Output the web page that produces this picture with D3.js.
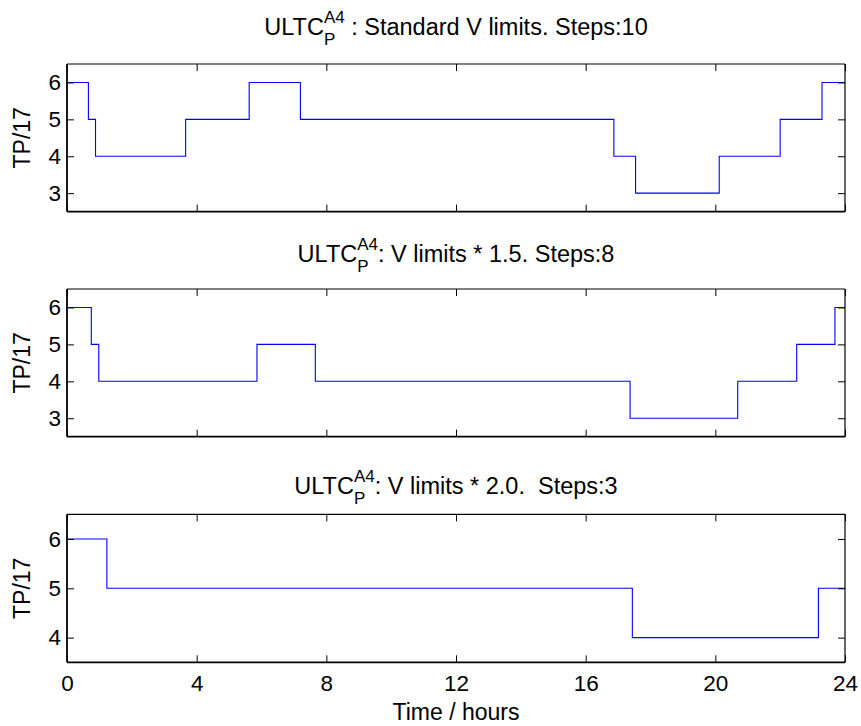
<!DOCTYPE html>
<html>
<head>
<meta charset="utf-8">
<script src="https://cdn.jsdelivr.net/npm/d3@7"></script>
<style>
  html, body { margin: 0; padding: 0; background: #fff; }
  text { font-family: "Liberation Sans", Arial, Helvetica, sans-serif; fill: #000; }
</style>
</head>
<body>
<svg id="chart" width="861" height="726"></svg>
<script>
// ---- data ----
const xTicks = [0, 4, 8, 12, 16, 20, 24];
const xLabel = "Time / hours";
const yLabel = "TP/17";

const titleMain = "ULTC";
const titleSup = "A4";
const titleSub = "P";
const titleRests = [" : Standard V limits. Steps:10", ": V limits * 1.5. Steps:8", ": V limits * 2.0.  Steps:3"];

const times1 = [0, 0.66, 0.88, 3.66, 5.62, 7.2, 16.87, 17.54, 20.12, 22.0, 23.29, 24];
const levels1 = [6, 5, 4, 5, 6, 5, 4, 3, 4, 5, 6, 6];

const times2 = [0, 0.75, 0.98, 5.86, 7.66, 17.37, 20.69, 22.51, 23.69, 24];
const levels2 = [6, 5, 4, 5, 4, 3, 4, 5, 6, 6];

const times3 = [0, 1.23, 17.44, 23.18, 24];
const levels3 = [6, 5, 4, 5, 5];

const yTicks1 = [3, 4, 5, 6];
const yTicks2 = [3, 4, 5, 6];
const yTicks3 = [4, 5, 6];
const yDomain1 = [2.5, 6.5];
const yDomain2 = [2.5, 6.5];
const yDomain3 = [3.5, 6.5];

// ---- layout ----
const svg = d3.select("#chart");
const left = 67, right = 845;
const panels = [
  { top: 64, bottom: 211.6, times: times1, levels: levels1, ticks: yTicks1, dom: yDomain1, titleY: 35, rest: titleRests[0], showX: false },
  { top: 289, bottom: 436.7, times: times2, levels: levels2, ticks: yTicks2, dom: yDomain2, titleY: 262, rest: titleRests[1], showX: false },
  { top: 514.3, bottom: 662.3, times: times3, levels: levels3, ticks: yTicks3, dom: yDomain3, titleY: 494, rest: titleRests[2], showX: true }
];

const FS_TICK = 22.5, FS_LABEL = 23, FS_TITLE = 23.5, FS_SCRIPT = 17;
const TICK = 7;

const x = d3.scaleLinear().domain([0, 24]).range([left, right]);

panels.forEach(p => {
  const y = d3.scaleLinear().domain(p.dom).range([p.bottom, p.top]);
  const g = svg.append("g");

  // data line
  const pts = p.times.map((t, i) => [t, p.levels[i]]);
  g.append("path")
    .datum(pts)
    .attr("fill", "none")
    .attr("stroke", "#0000ff")
    .attr("stroke-width", 1.1)
    .attr("d", d3.line().x(d => x(d[0])).y(d => y(d[1])).curve(d3.curveStepAfter));

  // axes (ticks inward)
  const ax = g.append("g").attr("transform", `translate(${left},0)`)
    .call(d3.axisLeft(y).tickValues(p.ticks).tickSize(-TICK).tickPadding(6).tickFormat(d3.format("d")));
  ax.select(".domain").remove();
  ax.selectAll("text").style("font-size", FS_TICK + "px");

  const ar = g.append("g").attr("transform", `translate(${right},0)`)
    .call(d3.axisRight(y).tickValues(p.ticks).tickSize(-TICK).tickFormat(""));
  ar.select(".domain").remove();

  const at = g.append("g").attr("transform", `translate(0,${p.top})`)
    .call(d3.axisTop(x).tickValues(xTicks).tickSize(-TICK).tickFormat(""));
  at.select(".domain").remove();

  const ab = g.append("g").attr("transform", `translate(0,${p.bottom})`)
    .call(d3.axisBottom(x).tickValues(xTicks).tickSize(-TICK).tickPadding(13)
      .tickFormat(p.showX ? d3.format("d") : ""));
  ab.select(".domain").remove();
  ab.selectAll("text").style("font-size", FS_TICK + "px");

  // box
  g.append("line").attr("x1", left).attr("x2", right).attr("y1", p.top).attr("y2", p.top).attr("stroke", "#000").attr("stroke-width", 1.2);
  g.append("line").attr("x1", right).attr("x2", right).attr("y1", p.top).attr("y2", p.bottom).attr("stroke", "#000").attr("stroke-width", 1.2);
  g.append("line").attr("x1", left).attr("x2", right).attr("y1", p.bottom).attr("y2", p.bottom).attr("stroke", "#000").attr("stroke-width", 1.8);
  g.append("line").attr("x1", left).attr("x2", left).attr("y1", p.top).attr("y2", p.bottom).attr("stroke", "#000").attr("stroke-width", 1.8);

  // y label
  g.append("text")
    .attr("transform", `translate(30,${(p.top + p.bottom) / 2}) rotate(-90)`)
    .attr("text-anchor", "middle")
    .style("font-size", FS_LABEL + "px")
    .text(yLabel);

  // title: ULTC with stacked sup/sub then rest
  const tg = g.append("g");
  const t1 = tg.append("text").attr("x", 0).attr("y", p.titleY).style("font-size", FS_TITLE + "px").text(titleMain);
  const w1 = t1.node().getComputedTextLength();
  const tsup = tg.append("text").attr("x", w1).attr("y", p.titleY - 12).style("font-size", FS_SCRIPT + "px").text(titleSup);
  const tsub = tg.append("text").attr("x", w1).attr("y", p.titleY + 10).style("font-size", FS_SCRIPT + "px").text(titleSub);
  const ws = Math.max(tsup.node().getComputedTextLength(), tsub.node().getComputedTextLength());
  const tr = tg.append("text").attr("x", w1 + ws).attr("y", p.titleY).style("font-size", FS_TITLE + "px")
    .style("white-space", "pre").attr("xml:space", "preserve").text(p.rest);
  const wt = w1 + ws + tr.node().getComputedTextLength();
  tg.attr("transform", `translate(${(left + right) / 2 - wt / 2},0)`);
});

// x label
svg.append("text")
  .attr("x", (left + right) / 2)
  .attr("y", 720)
  .attr("text-anchor", "middle")
  .style("font-size", FS_LABEL + "px")
  .text(xLabel);
</script>
</body>
</html>
